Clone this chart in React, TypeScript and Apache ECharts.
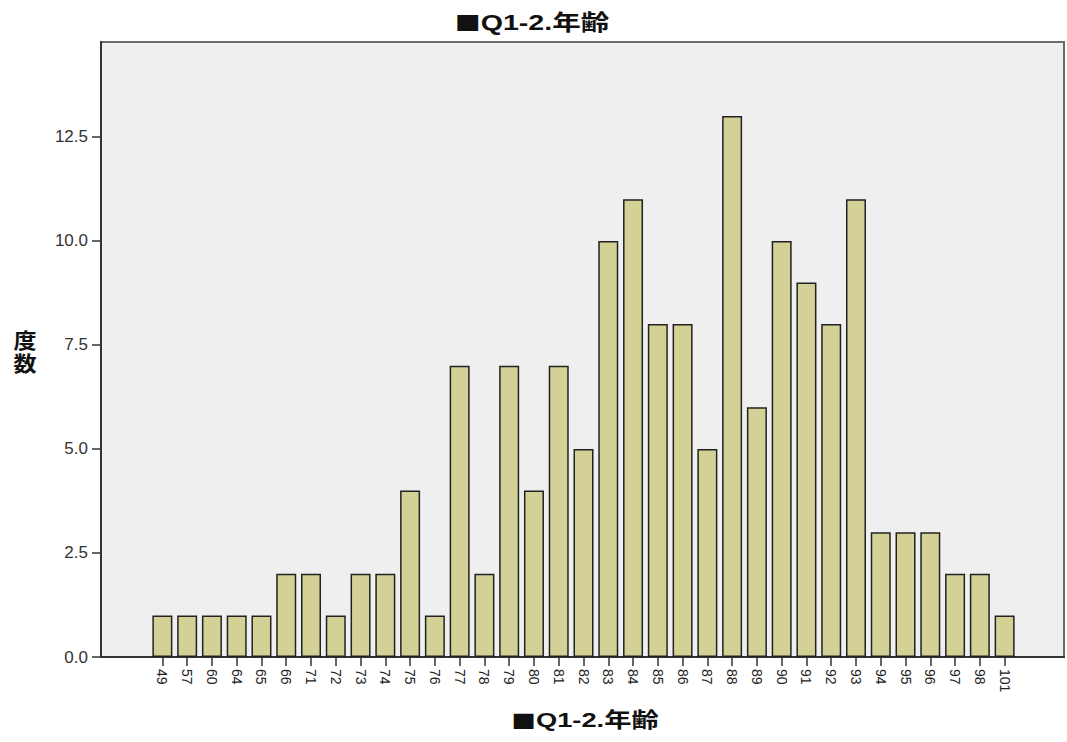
import React, { useEffect, useRef } from "react";
import * as echarts from "echarts";

const categories = ["49","57","60","64","65","66","71","72","73","74","75","76","77","78","79","80","81","82","83","84","85","86","87","88","89","90","91","92","93","94","95","96","97","98","101"];
const counts = [1,1,1,1,1,2,2,1,2,2,4,1,7,2,7,4,7,5,10,11,8,8,5,13,6,10,9,8,11,3,3,3,2,2,1];
const yTicks = [0, 2.5, 5, 7.5, 10, 12.5];
const titleSquare = "■";
const titleText = "Q1-2.年齢";
const yNameChars = ["度", "数"];

const latin = "Liberation Sans, Arial, Noto Sans CJK JP, sans-serif";
const cjk = "Noto Sans CJK JP, sans-serif";

function titleGraphic(cx: number, cy: number, size: number, sx: number) {
  return {
    type: "text",
    x: cx,
    y: cy,
    scaleX: sx,
    style: {
      text: `{sq|${titleSquare}}{t|${titleText}}`,
      align: "center",
      verticalAlign: "middle",
      rich: {
        sq: { fontFamily: cjk, fontSize: size - 2, fontWeight: "bold", fill: "#111" },
        t: { fontFamily: latin, fontSize: size, fontWeight: "bold", fill: "#111" },
      },
    },
  };
}

export default function App() {
  const ref = useRef<HTMLDivElement>(null);
  useEffect(() => {
    document.body.style.margin = "0";
    const chart = echarts.init(ref.current!, null, { renderer: "svg" });
    const yMax = 14.78;
    chart.setOption({
      animation: false,
      backgroundColor: "#ffffff",
      graphic: [
        titleGraphic(532, 22, 22, 1.3),
        titleGraphic(585, 720, 21, 1.3),
        {
          type: "text", x: 25, y: 338, scaleX: 1.1,
          style: { text: yNameChars[0], fontFamily: cjk, fontSize: 21, fontWeight: "bold", fill: "#111", align: "center", verticalAlign: "middle" },
        },
        {
          type: "text", x: 25, y: 361, scaleX: 1.1,
          style: { text: yNameChars[1], fontFamily: cjk, fontSize: 21, fontWeight: "bold", fill: "#111", align: "center", verticalAlign: "middle" },
        },
      ],
      grid: [
        { left: 101, top: 42, width: 963, height: 615, show: true, backgroundColor: "#efefef", borderColor: "#6a6a6a", borderWidth: 2 },
        { left: 150, top: 42, width: 867, height: 615 },
      ],
      xAxis: [
        {
          gridIndex: 0, type: "value", min: 0, max: 1,
          axisLine: { show: true, onZero: false, lineStyle: { color: "#333", width: 2 } },
          axisTick: { show: false }, axisLabel: { show: false }, splitLine: { show: false },
        },
        {
          gridIndex: 1, type: "category", data: categories, boundaryGap: true,
          axisLine: { show: false },
          axisTick: { show: true, alignWithLabel: true, length: 9, lineStyle: { color: "#333", width: 1.5 } },
          axisLabel: { rotate: -90, interval: 0, margin: 12, fontSize: 14, color: "#222", fontFamily: latin },
          splitLine: { show: false },
        },
      ],
      yAxis: [
        {
          gridIndex: 0, type: "value", min: 0, max: yMax,
          axisLine: { show: true, lineStyle: { color: "#333", width: 2 } },
          axisTick: { show: true, length: 9, customValues: yTicks, lineStyle: { color: "#333", width: 1.5 } },
          axisLabel: {
            customValues: yTicks, margin: 13, fontSize: 17, color: "#333",
            fontFamily: latin,
            formatter: (v: number) => v.toFixed(1),
          },
          splitLine: { show: false },
        },
        { gridIndex: 1, type: "value", min: 0, max: yMax, show: false },
      ],
      series: [
        {
          type: "bar",
          xAxisIndex: 1,
          yAxisIndex: 1,
          data: counts,
          barWidth: 20,
          itemStyle: { color: "#d4d197", borderColor: "#222", borderWidth: 1.5 },
        },
      ],
    });
    return () => chart.dispose();
  }, []);
  return <div ref={ref} style={{ width: 1067, height: 742 }} />;
}
